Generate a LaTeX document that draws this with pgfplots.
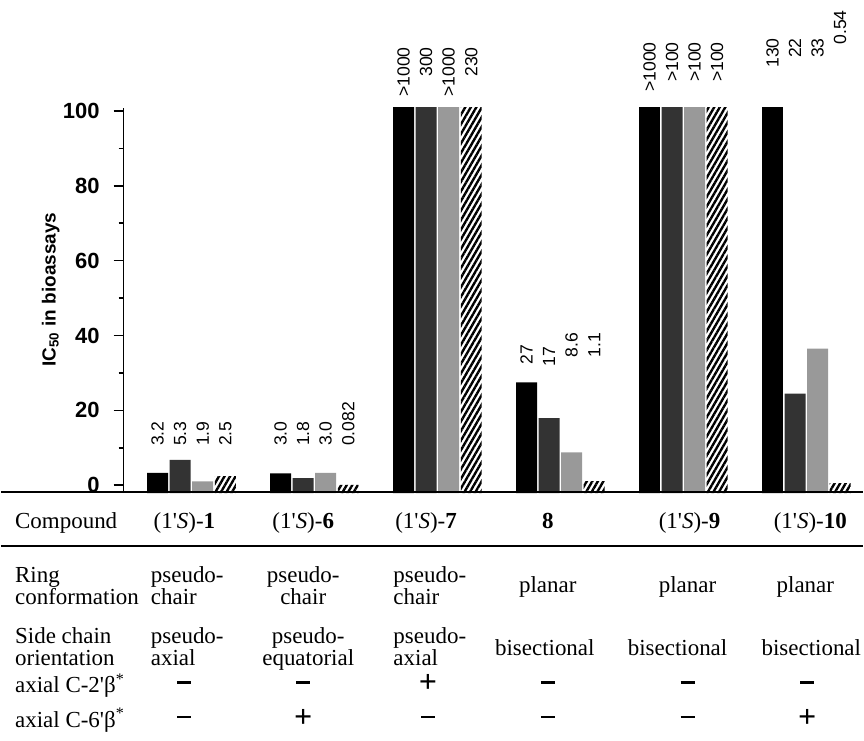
\documentclass[border=0pt]{standalone}
\usepackage{fontspec}
\setmainfont{Liberation Serif}
\setsansfont{Liberation Sans}
\newfontfamily\plainserif{Liberation Serif}
\usepackage{pgfplots}
\pgfplotsset{compat=1.18}
\usepackage{pgfplotstable}
\usetikzlibrary{patterns.meta}

% plotted bar heights (values above 100 are drawn cut at the top of the axis)
\pgfplotstableread{
x a b c d
0 3.3 6.8 1.0 2.4
1 3.2 1.9 3.3 0.08
2 101 101 101 101
3 27.5 17.9 8.8 1.1
4 101 101 101 101
5 101 24.5 36.5 0.54
}\ictable

\newcommand{\pr}{{\plainserif '}}
\newcommand{\mi}{\rule[4.6pt]{7pt}{1.4pt}}
\newcommand{\pl}{{\fontsize{16}{18}\selectfont\bfseries +}}

\begin{document}
\begin{tikzpicture}[lbl/.style={rotate=90, inner sep=0pt, font=\fontsize{8.8}{10}\sffamily}]
\begin{scope}[x=0.5pt,y=-0.5pt]
\useasboundingbox (0,0) rectangle (864,742);
\coordinate (O) at (123,494);
\end{scope}
\begin{axis}[at={(O)}, anchor=south west, scale only axis,
  width=370.5pt, height=193.125pt,
  xmin=-0.5519, xmax=5.4626, ymin=0, ymax=103,
  hide x axis, axis y line*=left,
  y axis line style={-, line width=0.8pt},
  ybar, bar width=10.5pt,
  ytick={2.1,22.1,42.1,62.1,82.1,102.1},
  yticklabels={\textbf{0},\textbf{20},\textbf{40},\textbf{60},\textbf{80},\textbf{100}},
  minor ytick={12.1,32.1,52.1,72.1,92.1},
  tick align=outside, major tick length=5pt, minor tick length=2.5pt,
  tick style={black, line width=0.8pt},
  yticklabel style={font=\fontsize{11}{13}\sffamily\bfseries, xshift=-3.5pt},
  clip=false,
]
\addplot[fill=black, draw=none, bar shift=-16.95pt] table[x=x, y expr=\thisrow{a}+2.1]{\ictable};
\addplot[fill=black!80, draw=none, bar shift=-5.65pt] table[x=x, y expr=\thisrow{b}+2.1]{\ictable};
\addplot[fill=black!40, draw=none, bar shift=5.65pt] table[x=x, y expr=\thisrow{c}+2.1]{\ictable};
\addplot[draw=none, pattern={Lines[angle=60,distance=2.4pt,line width=1.2pt]}, pattern color=black, bar shift=16.95pt] table[x=x, y expr=\thisrow{d}+2.1]{\ictable};

% value labels
\node[lbl, anchor=west] at (axis cs:-0.2752,12.53) {3.2};
\node[lbl, anchor=west] at (axis cs:-0.0917,12.53) {5.3};
\node[lbl, anchor=west] at (axis cs:0.0917,12.53) {1.9};
\node[lbl, anchor=west] at (axis cs:0.2752,12.53) {2.5};

\node[lbl, anchor=west] at (axis cs:0.7248,12.53) {3.0};
\node[lbl, anchor=west] at (axis cs:0.9083,12.53) {1.8};
\node[lbl, anchor=west] at (axis cs:1.0917,12.53) {3.0};
\node[lbl, anchor=west] at (axis cs:1.2752,12.53) {0.082};

\node[lbl, anchor=east] at (axis cs:1.7248,119.2) {>1000};
\node[lbl, anchor=east] at (axis cs:1.9083,119.2) {300};
\node[lbl, anchor=east] at (axis cs:2.0917,119.2) {>1000};
\node[lbl, anchor=east] at (axis cs:2.2752,119.2) {230};

\node[lbl, anchor=east] at (axis cs:2.7248,39.73) {27};
\node[lbl, anchor=east] at (axis cs:2.9083,39.2) {17};
\node[lbl, anchor=east] at (axis cs:3.0917,42.93) {8.6};
\node[lbl, anchor=east] at (axis cs:3.2752,42.93) {1.1};

\node[lbl, anchor=east] at (axis cs:3.7248,120.53) {>1000};
\node[lbl, anchor=east] at (axis cs:3.9083,120.53) {>100};
\node[lbl, anchor=east] at (axis cs:4.0917,120.53) {>100};
\node[lbl, anchor=east] at (axis cs:4.2752,120.53) {>100};

\node[lbl, anchor=east] at (axis cs:4.7248,121.6) {130};
\node[lbl, anchor=east] at (axis cs:4.9083,121.6) {22};
\node[lbl, anchor=east] at (axis cs:5.0917,121.6) {33};
\node[lbl, anchor=east] at (axis cs:5.2752,129.07) {0.54};
\end{axis}

\begin{scope}[x=0.5pt,y=-0.5pt, every node/.style={inner sep=0pt, font=\fontsize{11.5}{13}\selectfont}]
\node[rotate=90, font=\fontsize{9.5}{11}\sffamily\bfseries] at (50,290) {IC\textsubscript{50} in bioassays};
\draw[line width=0.8pt] (0,493) -- (864,493);
\draw[line width=0.8pt] (0,547) -- (864,547);
% compound row
\node[anchor=base west] at (14,529) {Compound};
\node[anchor=base] at (184,529) {(1\pr\textit{S})-\textbf{1}};
\node[anchor=base] at (303,529) {(1\pr\textit{S})-\textbf{6}};
\node[anchor=base] at (426,529) {(1\pr\textit{S})-\textbf{7}};
\node[anchor=base] at (548,529) {\textbf{8}};
\node[anchor=base] at (690,529) {(1\pr\textit{S})-\textbf{9}};
\node[anchor=base] at (811,529) {(1\pr\textit{S})-\textbf{10}};
% ring conformation
\node[anchor=base west] at (14,584) {Ring};
\node[anchor=base west] at (14,606) {conformation};
\node[anchor=base west] at (150,584) {pseudo-};
\node[anchor=base west] at (150,606) {chair};
\node[anchor=base] at (303,584) {pseudo-};
\node[anchor=base] at (303,606) {chair};
\node[anchor=base west] at (393,584) {pseudo-};
\node[anchor=base west] at (393,606) {chair};
\node[anchor=base] at (548,594) {planar};
\node[anchor=base] at (688,594) {planar};
\node[anchor=base] at (806,594) {planar};
% side chain orientation
\node[anchor=base west] at (14,645) {Side chain};
\node[anchor=base west] at (14,667) {orientation};
\node[anchor=base west] at (150,645) {pseudo-};
\node[anchor=base west] at (150,667) {axial};
\node[anchor=base] at (308,645) {pseudo-};
\node[anchor=base] at (308,667) {equatorial};
\node[anchor=base west] at (393,645) {pseudo-};
\node[anchor=base west] at (393,667) {axial};
\node[anchor=base] at (545,657) {bisectional};
\node[anchor=base] at (678,657) {bisectional};
\node[anchor=base] at (812,657) {bisectional};
% axial substituents
\node[anchor=base west] at (14,694) {axial C-2\pr β\textsuperscript{*}};
\node[anchor=base west] at (14,729) {axial C-6\pr β\textsuperscript{*}};
\node[anchor=base] at (184,694) {\mi};
\node[anchor=base] at (303,694) {\mi};
\node[anchor=base] at (428,694) {\pl};
\node[anchor=base] at (548,694) {\mi};
\node[anchor=base] at (688,694) {\mi};
\node[anchor=base] at (808,694) {\mi};
\node[anchor=base] at (184,729) {\mi};
\node[anchor=base] at (303,729) {\pl};
\node[anchor=base] at (428,729) {\mi};
\node[anchor=base] at (548,729) {\mi};
\node[anchor=base] at (688,729) {\mi};
\node[anchor=base] at (808,729) {\pl};
\end{scope}
\end{tikzpicture}
\end{document}
